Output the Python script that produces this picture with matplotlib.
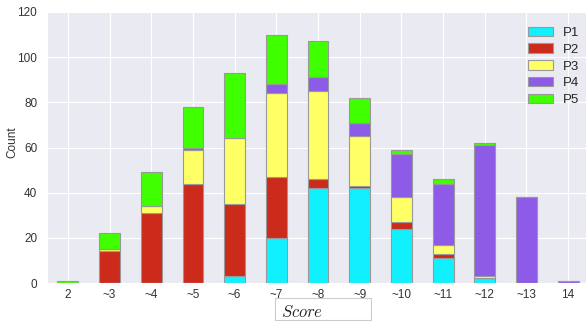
import matplotlib
matplotlib.use('Agg')
import matplotlib.pyplot as plt
import matplotlib.patches as mpatches
import numpy as np
import seaborn as sns

# 各分数段的人数
labels = ['2', '~3', '~4', '~5', '~6', '~7', '~8', '~9', '~10', '~11', '~12', '~13', '14']
p1 = [0, 0, 0, 0, 3, 20, 42, 42, 24, 11, 2, 0, 0]
p2 = [0, 14, 31, 44, 32, 27, 4, 1, 3, 2, 0, 0, 0]
p3 = [0, 1, 3, 15, 29, 37, 39, 22, 11, 4, 1, 0, 0]
p4 = [0, 0, 0, 1, 0, 4, 6, 6, 19, 27, 58, 38, 1]
p5 = [1, 7, 15, 18, 29, 22, 16, 11, 2, 2, 1, 0, 0]
series = ['P1', 'P2', 'P3', 'P4', 'P5']

colors = ['#10F0FF', '#CC2A1A', '#FFFF66', '#8E5AE8', '#40FF00']

sns.set_style('darkgrid')
plt.rcParams['font.family'] = ['Liberation Sans', 'DejaVu Sans']
plt.rcParams['mathtext.fontset'] = 'cm'

fig = plt.figure(figsize=(5.86, 3.25), dpi=100)
ax = fig.add_axes([47 / 586, 42 / 325, 542 / 586, 271 / 325])

x = np.arange(len(labels))
bottom = np.zeros(len(labels))
for name, vals, c in zip(series, [p1, p2, p3, p4, p5], colors):
    ax.bar(x, vals, 0.5, bottom=bottom, color=c, edgecolor='#999999',
           linewidth=0.8, label=name)
    bottom += np.array(vals)

ax.set_xlim(-0.5, 12.5)
ax.set_ylim(0, 120)
ax.set_xticks(x)
ax.set_xticklabels(labels)
ax.set_yticks(range(0, 121, 20))
ax.tick_params(axis='both', labelsize=8.5, labelcolor='#333333')
ax.tick_params(axis='y', pad=3.5)
ax.tick_params(axis='x', pad=1)
ax.set_ylabel('Count', fontsize=8.5, color='#333333')
ax.yaxis.set_label_coords(-29 / 542, 0.52)
ax.legend(loc='upper left', frameon=False, fontsize=9.5,
          bbox_to_anchor=(0.865, 0.99), handlelength=1.9, labelspacing=0.35)

# 横轴标题框
fig.patches.append(mpatches.Rectangle((275 / 586, 5 / 325), 96 / 586, 22 / 325,
                                      transform=fig.transFigure, facecolor='white',
                                      edgecolor='#cccccc', linewidth=0.8))
fig.text(281 / 586, 13 / 325, r'$Score$', fontsize=12, va='center', ha='left')

fig.savefig('out.png', dpi=100)
